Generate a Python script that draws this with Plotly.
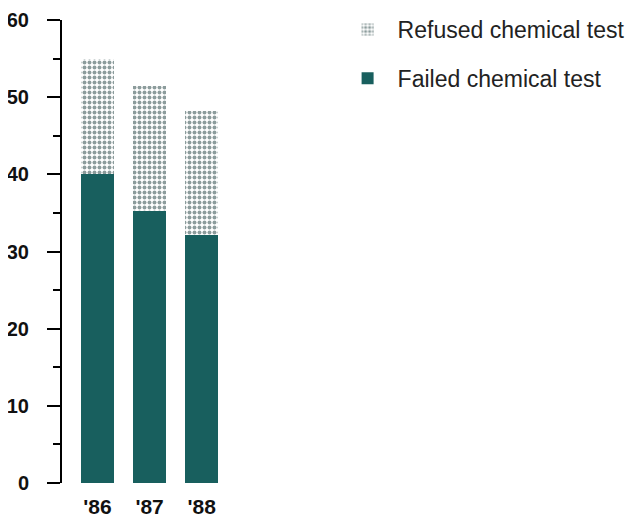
import plotly.graph_objects as go

years = ["'86", "'87", "'88"]
failed = [40.0, 35.3, 32.1]
refused = [15.0, 16.1, 16.1]

teal = "#185f5e"

fig = go.Figure()
fig.add_trace(go.Bar(
    x=years, y=failed, name="Failed chemical test",
    marker=dict(color=teal, line=dict(width=0)),
    legendgroup="f", legendrank=2,
))
fig.add_trace(go.Bar(
    x=years, y=refused, name="Refused chemical test",
    marker=dict(color="white", line=dict(width=0),
                pattern=dict(shape=".", fgcolor="#1a3a39", bgcolor="white",
                             size=5, solidity=0.5, fillmode="overlay")),
    legendgroup="r", legendrank=1,
))

# page has an 8px body margin, so margins are shifted by that
fig.update_layout(
    barmode="stack",
    bargap=0.365,
    width=640, height=519,
    margin=dict(l=54, r=415, t=12, b=44, autoexpand=False),
    paper_bgcolor="white", plot_bgcolor="white",
    font=dict(family="Liberation Sans, Arial, sans-serif", color="#111"),
    showlegend=True,
    legend=dict(
        xref="container", yref="container",
        x=0.515, y=1.0, xanchor="left", yanchor="top",
        traceorder="grouped", tracegroupgap=16,
        font=dict(size=23, color="#222"),
        itemwidth=50,
        bgcolor="rgba(0,0,0,0)",
    ),
)
fig.update_xaxes(
    range=[-0.68, 2.6], showline=False, showgrid=False, ticks="",
    tickfont=dict(size=21, weight="bold"), fixedrange=True, automargin=False,
    ticklabelstandoff=9,
)
fig.update_yaxes(
    range=[0, 60], tick0=0, dtick=10, showgrid=False, zeroline=False,
    showline=True, linecolor="black", linewidth=2,
    ticks="outside", ticklen=13, tickwidth=2, tickcolor="black",
    minor=dict(dtick=5, ticks="outside", ticklen=7, tickwidth=2, tickcolor="black"),
    tickfont=dict(size=20, weight="bold"), ticklabelstandoff=14, automargin=False,
    ticklabeloverflow="allow",
)

fig.write_html("out.html")
